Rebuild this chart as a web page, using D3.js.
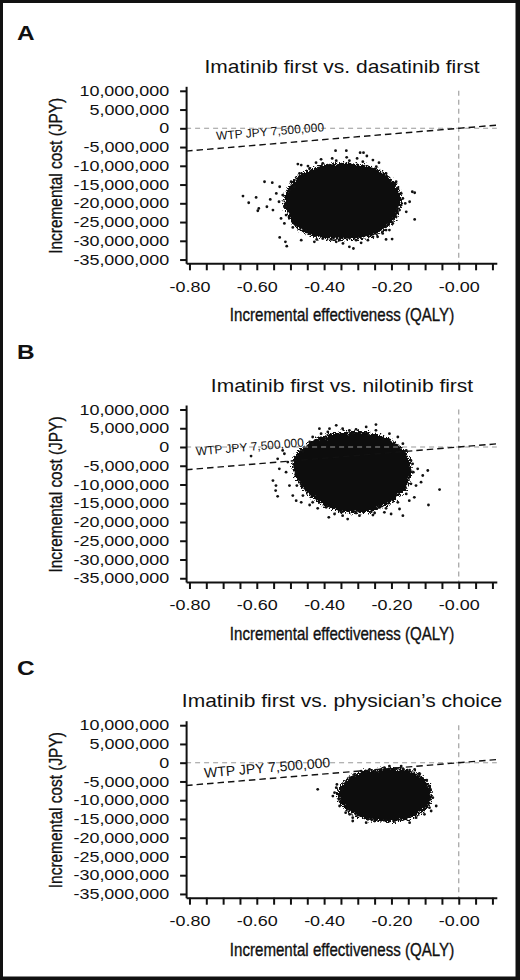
<!DOCTYPE html>
<html>
<head>
<meta charset="utf-8">
<script src="https://cdn.jsdelivr.net/npm/d3@7"></script>
<style>
    body { margin: 0; background: #fff; }
    svg { display: block; }
</style>
</head>
<body>
<svg id="chart" width="520" height="980"></svg>
<script>
// ---- data (QALY, cost in million JPY) ----
const panelLetters = ["A", "B", "C"];
const panelTitles = [
    "Imatinib first vs. dasatinib first",
    "Imatinib first vs. nilotinib first",
    "Imatinib first vs. physician\u2019s choice"
];
const yTickValues = [10e6, 5e6, 0, -5e6, -10e6, -15e6, -20e6, -25e6, -30e6, -35e6];
const xTickValues = [-0.80, -0.75, -0.70, -0.65, -0.60, -0.55, -0.50, -0.45, -0.40, -0.35,
    -0.30, -0.25, -0.20, -0.15, -0.10, -0.05, 0.00, 0.05, 0.10];
const xTickLabels = [-0.80, -0.60, -0.40, -0.20, 0.00];
const xDomain = [-0.81, 0.113];
const yDomain = [-36e6, 11.2e6];
const wtp = 7500000;
const wtpText = "WTP JPY 7,500,000";

// solid centre of each cloud (outline)
const coreA = [[-0.513,-19.14],[-0.503,-16.47],[-0.483,-13.80],[-0.453,-12.02],[-0.418,-10.69],[-0.384,-10.06],
    [-0.344,-9.80],[-0.305,-10.06],[-0.265,-10.69],[-0.230,-12.02],[-0.206,-13.80],[-0.186,-16.03],[-0.176,-18.70],
    [-0.181,-21.37],[-0.196,-24.04],[-0.221,-26.26],[-0.255,-28.04],[-0.295,-28.93],[-0.344,-29.11],[-0.394,-28.93],
    [-0.433,-28.22],[-0.468,-26.71],[-0.493,-24.48],[-0.508,-21.81]];
const coreB = [[-0.488,-4.92],[-0.478,-2.24],[-0.453,-0.01],[-0.419,1.78],[-0.379,2.94],[-0.335,3.56],[-0.290,3.56],
    [-0.250,2.94],[-0.211,1.78],[-0.181,-0.01],[-0.156,-2.69],[-0.147,-5.37],[-0.151,-8.49],[-0.166,-11.17],
    [-0.196,-13.85],[-0.236,-15.82],[-0.285,-16.98],[-0.330,-16.98],[-0.374,-16.08],[-0.414,-14.30],[-0.448,-11.62],
    [-0.473,-8.94]];
const coreC = [[-0.354,-8.00],[-0.339,-5.78],[-0.315,-4.00],[-0.280,-2.85],[-0.235,-2.23],[-0.191,-2.05],[-0.151,-2.49],
    [-0.122,-3.56],[-0.099,-5.34],[-0.087,-8.00],[-0.092,-10.66],[-0.112,-12.88],[-0.146,-14.39],[-0.191,-15.10],
    [-0.235,-15.10],[-0.280,-14.39],[-0.315,-13.15],[-0.339,-11.37],[-0.352,-9.78]];

// scattered iterations around the edge of each cloud
const dotsA = [[-0.641,-18.07],[-0.624,-19.85],[-0.602,-18.43],[-0.594,-21.37],[-0.597,-21.99],[-0.577,-14.25],
    [-0.554,-14.51],[-0.560,-18.96],[-0.570,-20.92],[-0.532,-29.11],[-0.515,-30.27],[-0.511,-31.42],[-0.366,-5.97],
    [-0.334,-5.97],[-0.293,-6.50],[-0.283,-6.50],[-0.273,-7.39],[-0.376,-8.02],[-0.333,-7.75],[-0.302,-8.02],
    [-0.424,-9.17],[-0.448,-10.06],[-0.478,-9.53],[-0.468,-9.80],[-0.409,-8.28],[-0.255,-8.46],[-0.237,-9.17],
    [-0.138,-16.92],[-0.131,-17.18],[-0.146,-19.59],[-0.166,-18.70],[-0.159,-20.03],[-0.156,-22.26],[-0.176,-21.81],
    [-0.131,-24.30],[-0.191,-14.69],[-0.181,-16.03],[-0.196,-25.37],[-0.206,-27.15],[-0.493,-26.44],[-0.468,-29.82],
    [-0.445,-28.04],[-0.422,-29.64],[-0.379,-29.64],[-0.364,-30.27],[-0.344,-30.71],[-0.325,-31.60],[-0.313,-32.05],
    [-0.290,-30.53],[-0.270,-29.82],[-0.241,-28.93],[-0.226,-28.04],[-0.216,-29.64],[-0.198,-29.55],[-0.429,-30.27],
    [-0.542,-17.36],[-0.534,-19.59],[-0.552,-21.81],[-0.528,-24.04],[-0.518,-25.37],[-0.503,-16.47],[-0.488,-15.58],
    [-0.532,-15.58],[-0.523,-17.81],[-0.518,-20.92],[-0.513,-23.15],[-0.483,-25.82],[-0.453,-27.33],[-0.404,-29.38],
    [-0.354,-29.82],[-0.305,-29.82],[-0.255,-28.93],[-0.216,-27.15],[-0.186,-23.59],[-0.171,-20.48],[-0.171,-17.36],
    [-0.186,-14.25],[-0.216,-12.02],[-0.245,-10.24],[-0.285,-8.91],[-0.325,-8.64],[-0.364,-8.64],[-0.404,-9.35],
    [-0.443,-10.69],[-0.473,-12.02],[-0.498,-14.25]];
const dotsB = [[-0.552,-8.94],[-0.543,-10.28],[-0.538,-13.14],[-0.544,-11.62],[-0.533,-5.82],[-0.538,-3.14],
    [-0.518,-1.80],[-0.513,-6.71],[-0.503,-10.28],[-0.493,-12.96],[-0.483,-14.30],[-0.468,-14.75],[-0.523,-0.90],
    [-0.508,-4.03],[-0.617,-2.42],[-0.246,5.97],[-0.246,4.46],[-0.206,3.56],[-0.181,2.67],[-0.345,4.90],[-0.325,4.46],
    [-0.305,4.72],[-0.389,4.01],[-0.409,3.56],[-0.384,4.90],[-0.414,4.90],[-0.434,2.67],[-0.443,1.33],[-0.364,5.79],
    [-0.275,5.35],[-0.092,-6.26],[-0.107,-7.60],[-0.112,-9.39],[-0.127,-10.28],[-0.057,-11.35],[-0.090,-15.46],
    [-0.132,-13.41],[-0.147,-14.30],[-0.122,-5.82],[-0.137,-4.48],[-0.156,-0.90],[-0.166,0.88],[-0.386,-18.76],
    [-0.330,-19.21],[-0.369,-17.87],[-0.295,-18.32],[-0.255,-18.14],[-0.250,-17.60],[-0.221,-17.42],[-0.201,-17.87],
    [-0.176,-16.53],[-0.166,-18.32],[-0.345,-18.32],[-0.419,-16.35],[-0.443,-15.46],[-0.483,-6.71],[-0.481,-10.28],
    [-0.463,-12.96],[-0.434,-14.75],[-0.394,-16.08],[-0.349,-17.42],[-0.305,-17.60],[-0.260,-17.25],[-0.216,-16.35],
    [-0.181,-14.75],[-0.156,-12.51],[-0.142,-9.83],[-0.135,-6.71],[-0.142,-3.58],[-0.161,-1.35],[-0.191,0.61],
    [-0.226,2.22],[-0.270,3.12],[-0.315,3.56],[-0.359,3.29],[-0.399,2.40],[-0.434,0.88],[-0.463,-1.17]];
const dotsC = [[-0.419,-7.11],[-0.369,-8.00],[-0.364,-6.67],[-0.374,-8.89],[-0.356,-9.78],[-0.354,-11.55],
    [-0.362,-5.78],[-0.324,-4.00],[-0.310,-3.12],[-0.290,-2.23],[-0.265,-1.78],[-0.250,-2.49],[-0.221,-1.34],
    [-0.206,-0.90],[-0.171,-0.90],[-0.166,-1.61],[-0.131,-1.78],[-0.117,-3.12],[-0.087,-6.22],[-0.077,-9.33],
    [-0.067,-11.55],[-0.087,-11.98],[-0.082,-12.88],[-0.315,-15.55],[-0.315,-14.66],[-0.275,-15.99],[-0.270,-15.10],
    [-0.250,-15.55],[-0.206,-15.55],[-0.146,-15.99],[-0.127,-14.66],[-0.102,-13.77],[-0.336,-13.33],[-0.324,-13.77],
    [-0.346,-7.11],[-0.349,-10.22],[-0.329,-12.44],[-0.300,-14.04],[-0.260,-15.10],[-0.216,-15.37],[-0.171,-14.93],
    [-0.131,-13.77],[-0.102,-11.98],[-0.085,-9.78],[-0.084,-7.11],[-0.095,-4.63],[-0.117,-2.85],[-0.146,-1.96],
    [-0.186,-1.61],[-0.230,-1.78],[-0.275,-2.49],[-0.310,-3.56],[-0.334,-5.16]];

const cores = [coreA, coreB, coreC];
const dots = [dotsA, dotsB, dotsC];

// ---- layout ----
const axisYs = [263.3, 582, 897.7];
const plotHeight = 177;
const wtpLabelAt = [[-0.72, -3.15], [-0.78, -2.24], [-0.755, -4.0]];
const wtpLabelSize = [12, 12, 14];
const stretch = 1.24;   // the figure's tick/title text is drawn wide
const narrowScale = 0.83; // axis titles are condensed
const sans = "'Liberation Sans', Arial, Helvetica, sans-serif";

const svg = d3.select("#chart");

// speckled edge for the dense part of a cloud
let defs = svg.append("defs");
let rough = defs.append("filter").attr("id", "rough")
    .attr("x", "-25%").attr("y", "-25%").attr("width", "150%").attr("height", "150%");
rough.append("feTurbulence").attr("type", "fractalNoise").attr("baseFrequency", 0.6)
    .attr("numOctaves", 2).attr("seed", 4).attr("result", "noise");
rough.append("feDisplacementMap").attr("in", "SourceGraphic").attr("in2", "noise")
    .attr("scale", 9).attr("xChannelSelector", "R").attr("yChannelSelector", "G");

// frame
svg.append("rect").attr("width", 520).attr("height", 980).attr("fill", "#111");
svg.append("rect").attr("x", 3).attr("y", 3).attr("width", 512.5).attr("height", 973.5).attr("fill", "#fff");

const xScale = d3.scaleLinear().domain(xDomain).range([186.1, 496.8]);
const fmtMinus = s => s.replace(/\u2212/g, "-");

panelTitles.forEach((title, i) => {
    const axisY = axisYs[i];
    const yScale = d3.scaleLinear().domain(yDomain).range([axisY, axisY - plotHeight]);
    const g = svg.append("g");

    // cloud
    let line = d3.line()
        .x(d => xScale(d[0]))
        .y(d => yScale(d[1] * 1e6))
        .curve(d3.curveCardinalClosed);
    g.append("path")
        .datum(cores[i])
        .attr("d", line)
        .attr("fill", "#111")
        .attr("stroke", "#111")
        .attr("stroke-width", 5)
        .attr("stroke-linecap", "round")
        .attr("stroke-dasharray", "0.1,2.6,0.1,4.2,0.1,3.1,0.1,5.3,0.1,2.2,0.1,3.8")
        .attr("filter", "url(#rough)");

    g.selectAll("circle.dot")
        .data(dots[i])
        .join("circle")
        .attr("class", "dot")
        .attr("cx", d => xScale(d[0]))
        .attr("cy", d => yScale(d[1] * 1e6))
        .attr("r", 1.4)
        .attr("fill", "#111");

    // reference lines at 0
    g.append("line")
        .attr("x1", xScale(xDomain[0])).attr("x2", xScale(xDomain[1]))
        .attr("y1", yScale(0)).attr("y2", yScale(0))
        .attr("stroke", "#999").attr("stroke-width", 1.1)
        .attr("stroke-dasharray", "5,4");
    g.append("line")
        .attr("x1", xScale(0)).attr("x2", xScale(0))
        .attr("y1", yScale(10e6)).attr("y2", yScale(yDomain[0]))
        .attr("stroke", "#999").attr("stroke-width", 1.1)
        .attr("stroke-dasharray", "5,4");

    // WTP threshold line
    let wtpLine = d3.line()
        .x(d => xScale(d))
        .y(d => yScale(d * wtp));
    g.append("path")
        .datum(xDomain)
        .attr("d", wtpLine)
        .attr("fill", "none")
        .attr("stroke", "#111").attr("stroke-width", 1.4)
        .attr("stroke-dasharray", "6.5,4");

    let angle = Math.atan2(yScale(xDomain[1] * wtp) - yScale(xDomain[0] * wtp),
        xScale(xDomain[1]) - xScale(xDomain[0])) * 180 / Math.PI;
    let lab = wtpLabelAt[i];
    g.append("text")
        .attr("transform", `translate(${xScale(lab[0])},${yScale(lab[1] * 1e6)}) rotate(${angle})`)
        .attr("font-family", sans)
        .attr("font-size", wtpLabelSize[i])
        .attr("fill", "#111")
        .text(wtpText);

    // axes
    let yAxis = d3.axisLeft(yScale)
        .tickValues(yTickValues)
        .tickSize(6)
        .tickPadding(7.5)
        .tickSizeOuter(0)
        .tickFormat(d => fmtMinus(d3.format(",")(d)));
    let yG = g.append("g")
        .attr("transform", `translate(${xScale.range()[0]},0)`)
        .call(yAxis);

    let xAxis = d3.axisBottom(xScale)
        .tickValues(xTickValues)
        .tickSize(7)
        .tickPadding(11)
        .tickSizeOuter(0)
        .tickFormat(d => {
            if (!xTickLabels.some(v => Math.abs(v - d) < 1e-9)) return "";
            return Math.abs(d) < 1e-9 ? "-0.00" : fmtMinus(d3.format(".2f")(d));
        });
    let xG = g.append("g")
        .attr("transform", `translate(0,${axisY})`)
        .call(xAxis);

    [yG, xG].forEach(ax => {
        ax.attr("font-family", sans).attr("font-size", 14.5);
        ax.selectAll(".domain, .tick line").attr("stroke", "#111").attr("stroke-width", 2);
        ax.selectAll(".tick text").attr("fill", "#111").attr("transform", `scale(${stretch},1)`);
    });

    // axis titles (condensed look: squeeze and thicken a little)
    g.append("text")
        .attr("transform", `translate(61.5,${axisY - 87.5}) rotate(-90) scale(${narrowScale},1)`)
        .attr("text-anchor", "middle")
        .attr("font-family", sans)
        .attr("font-size", 18.6)
        .attr("fill", "#111")
        .attr("stroke", "#111").attr("stroke-width", 0.35)
        .text("Incremental cost (JPY)");
    g.append("text")
        .attr("transform", `translate(342,${axisY + 58}) scale(${narrowScale},1)`)
        .attr("text-anchor", "middle")
        .attr("font-family", sans)
        .attr("font-size", 18.2)
        .attr("fill", "#111")
        .attr("stroke", "#111").attr("stroke-width", 0.35)
        .text("Incremental effectiveness (QALY)");

    // panel title + letter
    g.append("text")
        .attr("transform", `translate(342,${axisY - 190.5}) scale(1.2,1)`)
        .attr("text-anchor", "middle")
        .attr("font-family", sans)
        .attr("font-size", 17.5)
        .attr("fill", "#111")
        .text(title);
    g.append("text")
        .attr("transform", `translate(17,${axisY - 223}) scale(1.25,1)`)
        .attr("font-family", sans)
        .attr("font-weight", "bold")
        .attr("font-size", 19.5)
        .attr("fill", "#111")
        .text(panelLetters[i]);
});
</script>
</body>
</html>
